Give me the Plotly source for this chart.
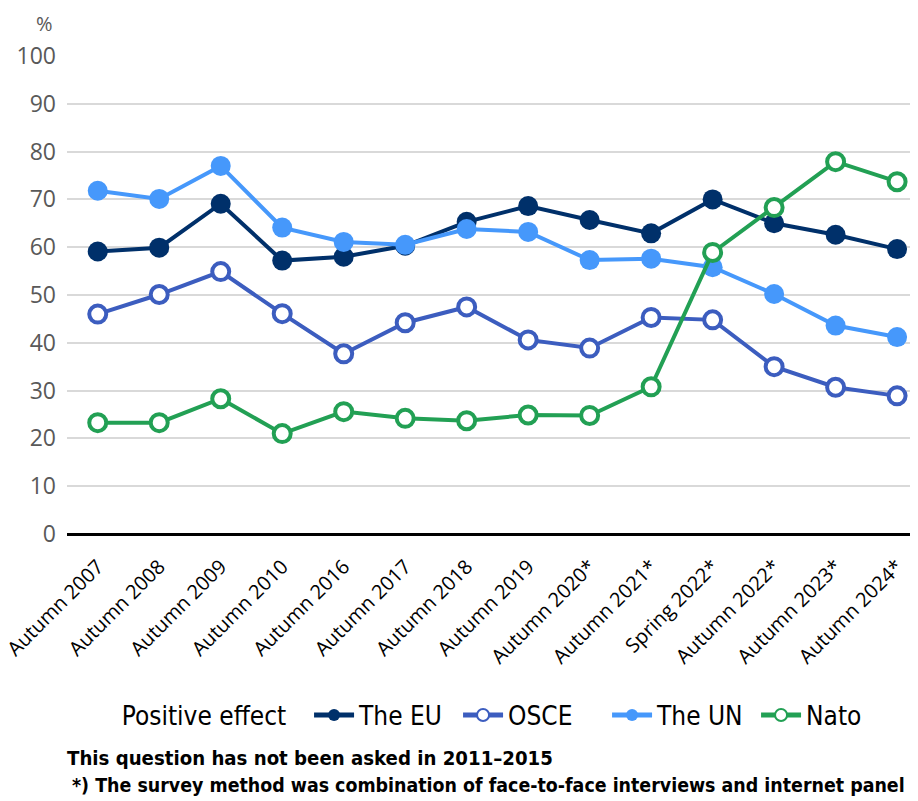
import plotly.graph_objects as go

categories = ["Autumn 2007", "Autumn 2008", "Autumn 2009", "Autumn 2010", "Autumn 2016",
              "Autumn 2017", "Autumn 2018", "Autumn 2019", "Autumn 2020*", "Autumn 2021*",
              "Spring 2022*", "Autumn 2022*", "Autumn 2023*", "Autumn 2024*"]
eu = [59.1, 59.9, 69.1, 57.2, 58.0, 60.3, 65.3, 68.6, 65.7, 62.9, 70.0, 65.0, 62.6, 59.6]
osce = [46.0, 50.1, 54.9, 46.1, 37.7, 44.2, 47.5, 40.6, 38.9, 45.3, 44.8, 35.0, 30.7, 28.9]
un = [71.8, 70.1, 77.0, 64.1, 61.1, 60.5, 63.8, 63.2, 57.3, 57.6, 55.8, 50.2, 43.6, 41.2]
nato = [23.3, 23.3, 28.3, 21.0, 25.6, 24.2, 23.7, 24.9, 24.8, 30.8, 58.9, 68.3, 77.9, 73.7]
y_ticks = [0, 10, 20, 30, 40, 50, 60, 70, 80, 90, 100]

series = [
    ("The EU", eu, "#00306a", False),
    ("OSCE", osce, "#3c5dbf", True),
    ("The UN", un, "#4698fb", False),
    ("Nato", nato, "#22a054", True),
]

COND = "DejaVu Sans Condensed, Liberation Sans Narrow, Roboto, sans-serif"

fig = go.Figure()
for name, vals, color, hollow in series:
    if hollow:
        marker = dict(symbol="circle", size=17, color="white", line=dict(color=color, width=4))
    else:
        marker = dict(symbol="circle", size=20, color=color, line=dict(width=0))
    fig.add_trace(go.Scatter(
        x=list(range(len(categories))), y=vals, name=name, mode="lines+markers",
        line=dict(color=color, width=4), marker=marker,
    ))

fig.update_layout(
    width=910, height=793,
    margin=dict(l=59, r=0, t=48, b=267),
    plot_bgcolor="white", paper_bgcolor="white",
    font=dict(family="Open Sans, sans-serif", color="#000000"),
    showlegend=True,
    legend=dict(
        orientation="h", x=0.062, xanchor="left", y=-0.379, yanchor="middle",
        title=dict(text="Positive effect  ", font=dict(size=26, family=COND)),
        font=dict(size=26, family=COND, color="#000000"),
        itemwidth=40, tracegroupgap=0, itemsizing="constant",
        entrywidth=94, entrywidthmode="pixels",
    ),
    xaxis=dict(
        tickmode="array", tickvals=list(range(len(categories))), ticktext=categories,
        range=[-0.5, 13.34], tickangle=-45, showgrid=False, zeroline=False,
        showline=False, ticks="", ticklabelstandoff=16, ticklabeloverflow="allow",
        tickfont=dict(size=20, color="#000000", family="Open Sans, sans-serif"),
        fixedrange=True, automargin=False,
    ),
    yaxis=dict(
        range=[0, 100], tickmode="array", tickvals=y_ticks,
        showgrid=True, gridcolor="#d9d9d9", gridwidth=2,
        zeroline=True, zerolinecolor="#000000", zerolinewidth=3,
        showline=False, ticks="", ticklabelstandoff=10, automargin=False,
        tickfont=dict(size=23, color="#595959", family="Open Sans, sans-serif"),
    ),
    annotations=[
        dict(text="%", xref="paper", yref="paper", x=-0.014, y=1.068, xanchor="right", yanchor="middle",
             showarrow=False, font=dict(size=20, color="#595959", family="Open Sans, sans-serif")),
        dict(text="<b>This question has not been asked in 2011\u20132015</b>", xref="paper", yref="paper",
             x=-0.0024, y=-0.469, xanchor="left", yanchor="middle", showarrow=False, align="left",
             font=dict(size=20.2, color="#000000", family=COND)),
        dict(text="<b>*) The survey method was combination of face-to-face interviews and internet panel</b>",
             xref="paper", yref="paper", x=0.0035, y=-0.527, xanchor="left", yanchor="middle",
             showarrow=False, align="left",
             font=dict(size=19.4, color="#000000", family=COND)),
    ],
)

fig.write_html("out.html")
